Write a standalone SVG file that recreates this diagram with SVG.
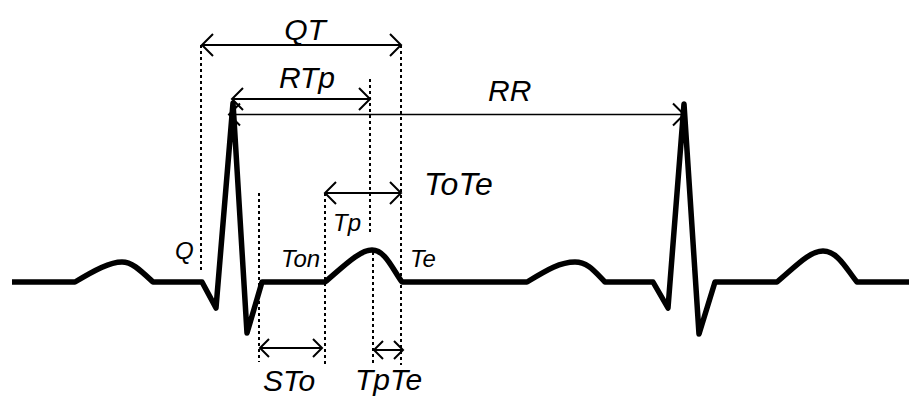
<svg xmlns="http://www.w3.org/2000/svg" width="909" height="399" viewBox="0 0 909 399">
<style>
.lbl{font-family:"Liberation Sans",Arial,sans-serif;font-style:italic;fill:#000}
.big{font-size:30px}
.sm{font-size:24px}
.guide{stroke:#000;stroke-width:2;stroke-dasharray:3 3;fill:none}
.dim{stroke:#000;stroke-width:2;fill:none;marker-start:url(#ah);marker-end:url(#ah)}
.dims{stroke:#000;stroke-width:2;fill:none;marker-start:url(#ahs);marker-end:url(#ahs)}
.ecg{stroke:#000;stroke-width:5.5;fill:none;stroke-linejoin:round;stroke-linecap:butt}
</style>
<defs>
<marker id="ah" markerUnits="userSpaceOnUse" markerWidth="30" markerHeight="30" viewBox="-15 -15 30 30" refX="0" refY="0" orient="auto-start-reverse" overflow="visible">
<path d="M-11,-11 L0,0 L-11,11" fill="none" stroke="#000" stroke-width="2"/>
</marker>
<marker id="ahs" markerUnits="userSpaceOnUse" markerWidth="30" markerHeight="30" viewBox="-15 -15 30 30" refX="0" refY="0" orient="auto-start-reverse" overflow="visible">
<path d="M-9,-9 L0,0 L-9,9" fill="none" stroke="#000" stroke-width="2"/>
</marker>
</defs>
<rect width="909" height="399" fill="#fff"/>
<g id="ecg">
<path class="ecg" d="M12,282 L75,282 C95,270 110,262 122,262 C132,262 140,270 153,282 L202,282 L216,308 L233,103 L247,333 L262,282 L325,282 C345,265 360,250 372,250 C385,250 392,268 402,282 L527,282 C547,270 560,262 575,262 C588,262 595,272 605,282 L653,282 L668,308 L684,104 L699,334 L715,282 L777,282 C797,265 810,251 823,251 C838,251 847,270 857,282 L909,282"/>
</g>
<g id="guides">
<line class="guide" x1="201" y1="45" x2="201" y2="272"/>
<line class="guide" x1="401" y1="45" x2="401" y2="365"/>
<line class="guide" x1="370" y1="79" x2="370" y2="232"/>
<line class="guide" x1="373" y1="252" x2="373" y2="365"/>
<line class="guide" x1="259" y1="193" x2="259" y2="362"/>
<line class="guide" x1="325" y1="193" x2="325" y2="365"/>
</g>
<g id="connectors">
<line id="qt-arrow" class="dim" x1="202" y1="45" x2="401" y2="45"/>
<line id="rtp-arrow" class="dim" x1="232" y1="99" x2="370" y2="99"/>
<line id="rr-arrow" class="dim" x1="229" y1="114.5" x2="684" y2="114.5" style="stroke-width:1.6"/>
<line id="tote-arrow" class="dim" x1="325" y1="193" x2="401" y2="193"/>
<line id="sto-arrow" class="dims" x1="260" y1="348" x2="322" y2="348"/>
<line id="tpte-arrow" class="dims" x1="374" y1="350" x2="403" y2="350"/>
</g>
<g id="QT"><text class="lbl big" x="305" y="40" text-anchor="middle">QT</text></g>
<g id="RTp"><text class="lbl big" x="307" y="88" text-anchor="middle">RTp</text></g>
<g id="RR"><text class="lbl big" x="488" y="101">RR</text></g>
<g id="ToTe"><text class="lbl" x="424" y="195" style="font-size:32px">ToTe</text></g>
<g id="Tp"><text class="lbl sm" x="333" y="231">Tp</text></g>
<g id="Q"><text class="lbl sm" x="175" y="259">Q</text></g>
<g id="Ton"><text class="lbl sm" x="281" y="267">Ton</text></g>
<g id="Te"><text class="lbl sm" x="410" y="267">Te</text></g>
<g id="STo"><text class="lbl big" x="263" y="391">STo</text></g>
<g id="TpTe"><text class="lbl big" x="355" y="390">TpTe</text></g>
</svg>
